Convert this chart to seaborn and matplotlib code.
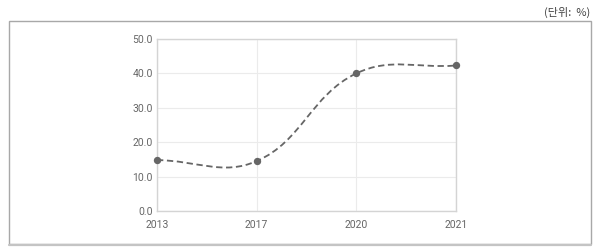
import numpy as np
import pandas as pd
import matplotlib
matplotlib.use("Agg")
import matplotlib.pyplot as plt
from matplotlib.path import Path
from matplotlib.patches import PathPatch, Rectangle
from matplotlib.lines import Line2D
import seaborn as sns

years = ["2013", "2017", "2020", "2021"]
values = [14.8, 14.5, 40.0, 42.3]
yticks = [0, 10, 20, 30, 40, 50]
unit_label = "(단위:  %)"

sns.set_style("white")
plt.rcParams['font.family'] = ['Roboto', 'DejaVu Sans']

fig = plt.figure(figsize=(6, 2.52), dpi=100)
ax = fig.add_axes([157/600, 1-211/252, (456-157)/600, (211-39)/252])

df = pd.DataFrame({"x": np.arange(len(years)), "y": values})
ax.set_xlim(0, len(years)-1)
ax.set_ylim(0, 50)

# Cardinal spline (tension 0.4) through the points, computed in pixel space
fig.canvas.draw()
pts = ax.transData.transform(np.column_stack([df["x"], df["y"]]))
t = 0.4
n = len(pts)
cp_prev = np.zeros_like(pts)
cp_next = np.zeros_like(pts)
for i in range(n):
    prev = pts[i-1] if i > 0 else pts[i]
    cur = pts[i]
    nxt = pts[i+1] if i < n-1 else pts[i]
    d01 = np.hypot(*(cur-prev))
    d12 = np.hypot(*(nxt-cur))
    tot = d01 + d12
    s01 = d01/tot if tot else 0
    s12 = d12/tot if tot else 0
    cp_prev[i] = cur - t*s01*(nxt-prev)
    cp_next[i] = cur + t*s12*(nxt-prev)
verts = [pts[0]]
codes = [Path.MOVETO]
for i in range(n-1):
    verts += [cp_next[i], cp_prev[i+1], pts[i+1]]
    codes += [Path.CURVE4]*3
inv = ax.transData.inverted()
verts_d = inv.transform(np.array(verts))
path = Path(verts_d, codes)
ax.add_patch(PathPatch(path, fill=False, edgecolor="#666666", lw=1.3,
                       linestyle=(0, (3.5, 2)), zorder=3))

sns.scatterplot(data=df, x="x", y="y", ax=ax, color="#666666", s=28,
                edgecolor="#666666", linewidth=0, zorder=4, clip_on=False)

ax.set_xticks(range(len(years)))
ax.set_xticklabels(years)
ax.set_yticks(yticks)
ax.set_yticklabels([f"{v:.1f}" for v in yticks])
ax.tick_params(axis="both", length=0, labelsize=7.5, labelcolor="#666666")
ax.tick_params(axis="y", pad=3)
ax.tick_params(axis="x", pad=6.5)
ax.grid(True, color="#ebebeb", lw=0.8)
ax.set_axisbelow(True)
for s in ax.spines.values():
    s.set_visible(True)
    s.set_color("#d4d4d4")
    s.set_linewidth(1.0)
ax.set_xlabel("")
ax.set_ylabel("")

# outer frame
fig.patches.append(Rectangle((9/600, 1-244/252), (591-9)/600, (244-21)/252,
                             transform=fig.transFigure, fill=False,
                             edgecolor="#a8a8a8", lw=1.0))
fig.lines.append(Line2D([9/600, 591/600], [1-244.5/252, 1-244.5/252],
                        transform=fig.transFigure, color="#c4c4c4", lw=1.6))
fig.text(590/600, 1-12/252, unit_label, ha="right", va="center", fontsize=8,
         color="#444444", family=['Noto Sans CJK KR', 'DejaVu Sans'])

fig.savefig("out.png", dpi=100)
